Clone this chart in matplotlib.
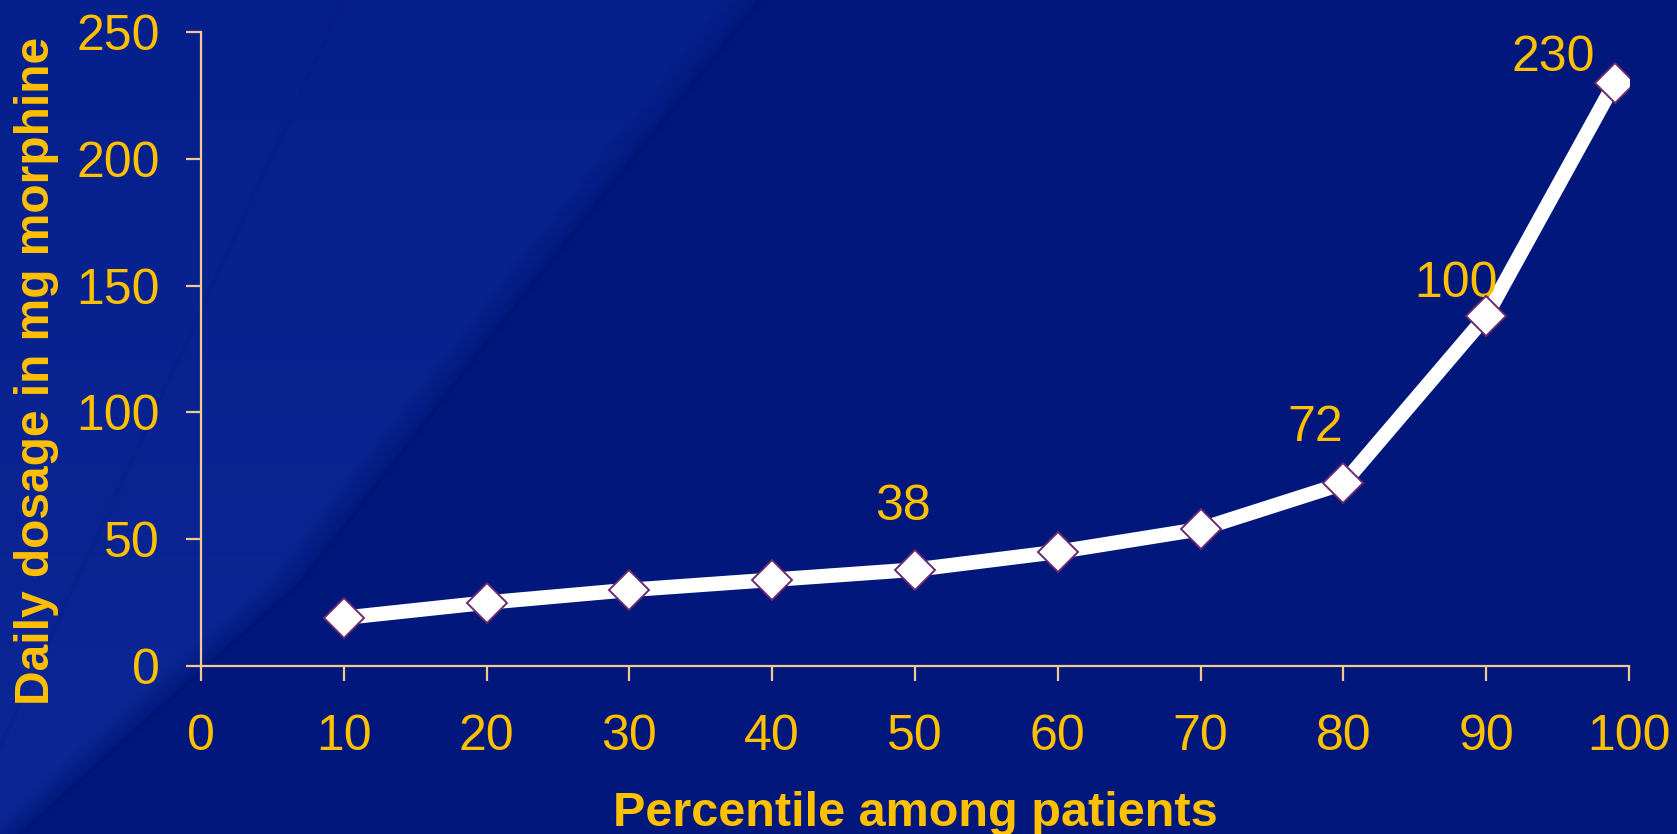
import numpy as np
import matplotlib
matplotlib.use('Agg')
import matplotlib.pyplot as plt

# Daily morphine dosage by patient percentile
percentiles = [10, 20, 30, 40, 50, 60, 70, 80, 90, 99]
dosage_mg = [19, 25, 30, 34, 38, 45, 54, 72, 138, 230]

# value labels written beside some points
label_x = [50, 80, 90, 99]
label_y = [38, 72, 138, 230]
label_text = ['38', '72', '100', '230']
label_offsets = [(-9, 45), (-20, 40), (-22, 23), (-44, 18)]

x_ticks = list(range(0, 101, 10))
y_ticks = list(range(0, 251, 50))

YELLOW = '#FFC000'
AXIS_COLOR = '#F2C98E'

plt.rcParams['font.family'] = ['Liberation Sans', 'DejaVu Sans']

W, H = 1677, 834
fig = plt.figure(figsize=(W / 100, H / 100), dpi=100)

# slide-style blue background with a lighter diagonal panel on the left
yy, xx = np.mgrid[0:H, 0:W].astype(float)
edge_x = np.interp(yy, [0, 300, 583, 683, 834], [760, 520, 300, 187, 20])
d = xx - edge_x
dark = np.array([2, 24, 124]) / 255
light_top = np.array([5, 31, 140]) / 255
light_bot = np.array([12, 40, 150]) / 255
s = (yy / H)[..., None]
light = light_top * (1 - s) + light_bot * s
t = np.clip(-d / 40, 0, 1)[..., None]
img = dark * (1 - t) + light * t
# thin darker seams along the panel edges
seam = np.exp(-(d / 3) ** 2)[..., None] * 0.5
img = img * (1 - seam) + np.array([0, 18, 110]) / 255 * seam
d2 = xx - (343 - 0.46 * yy)
seam2 = np.exp(-(d2 / 3) ** 2)[..., None] * 0.2
img = img * (1 - seam2) + np.array([0, 20, 115]) / 255 * seam2
bg = fig.add_axes([0, 0, 1, 1])
bg.imshow(img, aspect='auto', extent=[0, 1, 0, 1])
bg.axis('off')

ax = fig.add_axes([201 / W, 1 - 666 / H, (1629 - 201) / W, (666 - 32) / H])
ax.patch.set_alpha(0)

ax.plot(percentiles, dosage_mg, color='white', linewidth=10.5,
        solid_joinstyle='miter', zorder=3)
ax.plot(percentiles, dosage_mg, linestyle='none', marker='D', markersize=20,
        markerfacecolor='white', markeredgecolor='#6A2A6E',
        markeredgewidth=1.4, zorder=4)

for x, y, s, off in zip(label_x, label_y, label_text, label_offsets):
    ax.annotate(s, xy=(x, y), xytext=off, textcoords='offset points',
                ha='center', va='center', fontsize=36, color=YELLOW)

ax.set_xlim(0, 100)
ax.set_ylim(0, 250)
ax.set_xticks(x_ticks)
ax.set_yticks(y_ticks)

for side in ['top', 'right']:
    ax.spines[side].set_visible(False)
for side in ['left', 'bottom']:
    ax.spines[side].set_color(AXIS_COLOR)
    ax.spines[side].set_linewidth(1.6)

ax.tick_params(axis='both', colors=AXIS_COLOR, length=10.5, width=1.6,
               direction='out', labelsize=36, labelcolor=YELLOW)
ax.tick_params(axis='x', pad=24)
ax.tick_params(axis='y', pad=19)

ax.set_xlabel('Percentile among patients', fontsize=35, fontweight='bold',
              color=YELLOW)
ax.set_ylabel('Daily dosage in mg morphine', fontsize=34.5, fontweight='bold',
              color=YELLOW)
ax.xaxis.label.set_va('center')
ax.yaxis.label.set_va('center')
ax.xaxis.set_label_coords(0.5, (666 - 813) / 634)
ax.yaxis.set_label_coords((37 - 201) / 1428, (666 - 371) / 634)

fig.savefig('out.png', dpi=100)
